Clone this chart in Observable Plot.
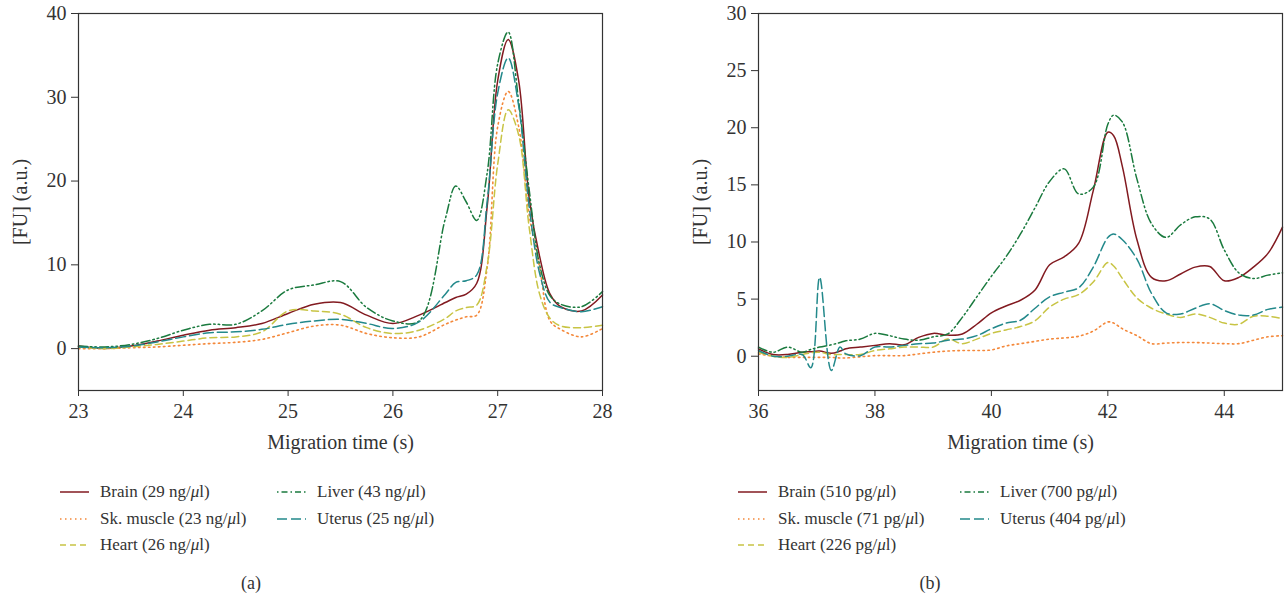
<!DOCTYPE html>
<html><head><meta charset="utf-8">
<script src="https://cdn.jsdelivr.net/npm/d3@7"></script>
<script src="https://cdn.jsdelivr.net/npm/@observablehq/plot@0.6"></script>
<style>
body{margin:0;background:#fff;font-family:"Liberation Serif","DejaVu Serif","Noto Serif",serif;color:#333;}
#wrap{position:relative;width:1284px;height:600px;overflow:hidden;}
.leg{position:absolute;font-size:17px;white-space:nowrap;display:flex;align-items:center;height:24px;}
.leg svg{margin-right:11px;}
.cap{position:absolute;font-size:18px;transform:translateX(-50%);}
svg text{font-family:"Liberation Serif","DejaVu Serif","Noto Serif",serif;}
</style></head><body><div id="wrap"></div>
<script>
// ---------- Panel (a) ----------
const timeA = [23, 23.25, 23.5, 23.75, 24, 24.25, 24.5, 24.75, 25, 25.25, 25.5, 25.75, 26, 26.25, 26.5, 26.6, 26.7, 26.8, 26.9, 27.0, 27.1, 27.2, 27.3, 27.4, 27.5, 27.6, 27.8, 28];
const brainA  = [0.3, 0.0, 0.3, 0.9, 1.6, 2.2, 2.5, 3.0, 4.2, 5.3, 5.5, 4.0, 3.0, 4.0, 5.5, 6.1, 6.5, 7.8, 17, 32, 36.9, 32, 18, 11, 6.5, 5.0, 4.5, 6.4];
const muscleA = [0.0, 0.0, 0.1, 0.2, 0.4, 0.6, 0.75, 1.1, 1.9, 2.7, 2.8, 1.8, 1.3, 1.4, 2.9, 3.4, 3.8, 4.0, 9.7, 26.5, 30.7, 26.5, 16, 9.7, 3.3, 2.3, 1.4, 2.4];
const heartA  = [0.2, 0.0, 0.2, 0.5, 0.9, 1.3, 1.4, 2.0, 4.5, 4.5, 4.1, 2.5, 1.8, 2.2, 3.6, 4.5, 4.9, 5.2, 10, 22, 28.5, 25.5, 14.5, 6.5, 3.6, 2.7, 2.5, 2.8];
const liverA  = [0.3, 0.2, 0.5, 1.2, 2.2, 2.9, 2.9, 4.5, 7.0, 7.6, 8.0, 4.9, 3.3, 3.3, 15.5, 19.4, 17.5, 15.3, 21, 34, 37.8, 29.5, 19, 10, 6.3, 5.3, 5.0, 6.8];
const uterusA = [0.2, 0.1, 0.3, 0.8, 1.4, 1.9, 2.0, 2.3, 2.9, 3.3, 3.5, 3.0, 2.4, 3.2, 6.5, 7.9, 8.1, 8.8, 17.6, 30.5, 34.7, 29, 17, 9, 5.5, 4.9, 4.4, 5.0];
const labelsA = ["Brain (29 ng/μl)", "Sk. muscle (23 ng/μl)", "Heart (26 ng/μl)", "Liver (43 ng/μl)", "Uterus (25 ng/μl)"];
const xTicksA = [23, 24, 25, 26, 27, 28];
const yTicksA = [0, 10, 20, 30, 40];

// ---------- Panel (b) ----------
const timeB = [36, 36.25, 36.5, 36.75, 36.9, 37.05, 37.25, 37.4, 37.5, 37.75, 38, 38.25, 38.5, 38.75, 39, 39.25, 39.5, 39.75, 40, 40.25, 40.5, 40.75, 41, 41.25, 41.5, 41.75, 42, 42.1, 42.25, 42.5, 42.75, 43, 43.25, 43.5, 43.75, 44, 44.25, 44.5, 44.75, 45];
const brainB  = [0.65, 0.15, 0.15, 0.35, 0.4, 0.45, 0.25, 0.45, 0.65, 0.8, 0.95, 1.1, 1.0, 1.65, 2.0, 1.85, 1.95, 2.8, 3.8, 4.4, 4.9, 5.8, 8.0, 8.7, 9.9, 14.5, 19.6, 19.3, 16.6, 10.2, 6.9, 6.6, 7.2, 7.8, 7.85, 6.6, 6.9, 7.8, 9.0, 11.3];
const muscleB = [0.2, 0.0, -0.1, -0.1, -0.1, -0.1, -0.1, -0.15, -0.15, -0.05, 0.05, 0.05, 0.05, 0.2, 0.35, 0.45, 0.5, 0.5, 0.55, 0.9, 1.1, 1.3, 1.5, 1.6, 1.75, 2.2, 3.0, 2.9, 2.4, 1.8, 1.1, 1.15, 1.2, 1.2, 1.15, 1.1, 1.1, 1.4, 1.7, 1.8];
const heartB  = [0.35, 0.0, -0.1, 0.15, 0.3, 0.35, 0.15, 0.15, 0.15, 0.15, 0.5, 0.65, 0.8, 0.8, 0.8, 1.5, 1.1, 1.5, 2.0, 2.3, 2.6, 3.1, 4.3, 5.0, 5.4, 6.5, 8.2, 7.9, 6.8, 5.1, 4.2, 3.7, 3.4, 3.7, 3.4, 2.9, 2.8, 3.5, 3.5, 3.3];
const liverB  = [0.8, 0.35, 0.8, 0.35, 0.6, 0.8, 1.0, 1.2, 1.35, 1.5, 2.0, 1.8, 1.5, 1.4, 1.7, 1.95, 3.4, 5.2, 7.0, 8.7, 10.7, 13.0, 15.3, 16.4, 14.2, 14.8, 20.3, 21.1, 20.5, 15.5, 11.6, 10.4, 11.5, 12.2, 12.0, 9.3, 7.3, 6.8, 7.1, 7.3];
const uterusB = [0.5, 0.0, 0.0, 0.15, -1.0, 6.9, -1.25, 0.8, 0.2, 0.05, 0.8, 0.8, 0.95, 1.1, 1.15, 1.4, 1.5, 1.8, 2.4, 2.9, 3.15, 4.2, 5.2, 5.6, 6.0, 7.8, 10.4, 10.7, 10.2, 8.5, 5.5, 3.8, 3.7, 4.2, 4.6, 4.0, 3.6, 3.6, 4.1, 4.3];
const labelsB = ["Brain (510 pg/μl)", "Sk. muscle (71 pg/μl)", "Heart (226 pg/μl)", "Liver (700 pg/μl)", "Uterus (404 pg/μl)"];
const xTicksB = [36, 38, 40, 42, 44];
const yTicksB = [0, 5, 10, 15, 20, 25, 30];

// ---------- styles ----------
const colors = ["#821a20", "#f4883a", "#c8c444", "#1a7a3e", "#23898b"];
const dashes = [null, "1.5,3.5", "7,4", "9,3,1.5,3,1.5,3", "10,4"];
const widths = [1.5, 1.6, 1.5, 1.5, 1.5];
const FONT = '"Liberation Serif", "DejaVu Serif", "Noto Serif", serif';

function makePanel(times, seriesList, xDomain, yDomain, xTicks, yTicks, width, marginRight) {
  const lineMarks = seriesList.map((vals, i) =>
    Plot.line(times.map((t, j) => ({t, v: vals[j]})), {
      x: "t", y: "v", stroke: colors[i], strokeWidth: widths[i],
      strokeDasharray: dashes[i], curve: "catmull-rom"
    })
  );
  return Plot.plot({
    width, height: 460,
    marginLeft: 78, marginRight, marginTop: 13, marginBottom: 70,
    style: {fontFamily: FONT, fontSize: "20px", color: "#333", background: "white", overflow: "visible"},
    x: {domain: xDomain},
    y: {domain: yDomain},
    marks: [
      ...lineMarks,
      Plot.frame({stroke: "#333", strokeWidth: 1.2}),
      Plot.axisX({ticks: xTicks, tickFormat: d => String(d), tickSize: 6, tickPadding: 7, fontSize: 20, label: "Migration time (s)", labelAnchor: "center", labelArrow: "none", labelOffset: 58}),
      Plot.axisY({ticks: yTicks, tickFormat: d => String(d), tickSize: 7, tickPadding: 5, fontSize: 20, label: "[FU] (a.u.)", labelAnchor: "center", labelArrow: "none", labelOffset: 66})
    ]
  });
}

const wrap = document.getElementById("wrap");
function place(el, left, top) { el.style.position = "absolute"; el.style.left = left + "px"; el.style.top = top + "px"; wrap.appendChild(el); }

const pa = makePanel(timeA, [brainA, muscleA, heartA, liverA, uterusA], [23, 28], [-5, 40], xTicksA, yTicksA, 640, 38);
place(pa, 0, 0);
const pb = makePanel(timeB, [brainB, muscleB, heartB, liverB, uterusB], [36, 45], [-3, 30], xTicksB, yTicksB, 604, 2);
place(pb, 680, 0);

function legendItem(i, label, left, cy) {
  const d = document.createElement("div");
  d.className = "leg";
  const ns = "http://www.w3.org/2000/svg";
  const s = document.createElementNS(ns, "svg");
  s.setAttribute("width", 29); s.setAttribute("height", 6);
  const l = document.createElementNS(ns, "line");
  l.setAttribute("x1", 0); l.setAttribute("x2", 29); l.setAttribute("y1", 3); l.setAttribute("y2", 3);
  l.setAttribute("stroke", colors[i]); l.setAttribute("stroke-width", widths[i]);
  if (dashes[i]) l.setAttribute("stroke-dasharray", i === 3 ? "1.5,3,6,3" : (i === 2 ? "6,4" : dashes[i]));
  s.appendChild(l); d.appendChild(s);
  const sp = document.createElement("span");
  sp.innerHTML = label.replace("μ", "<i>μ</i>");
  d.appendChild(sp);
  place(d, left, cy - 12);
}
const rows = [492, 519, 545];
function legend(labels, x0, x1) {
  legendItem(0, labels[0], x0, rows[0]);
  legendItem(1, labels[1], x0, rows[1]);
  legendItem(2, labels[2], x0, rows[2]);
  legendItem(3, labels[3], x1, rows[0]);
  legendItem(4, labels[4], x1, rows[1]);
}
legend(labelsA, 60, 277);
legend(labelsB, 738, 960);

function caption(txt, cx) { const d = document.createElement("div"); d.className = "cap"; d.textContent = txt; place(d, cx, 573); }
caption("(a)", 251);
caption("(b)", 930);
</script></body></html>
